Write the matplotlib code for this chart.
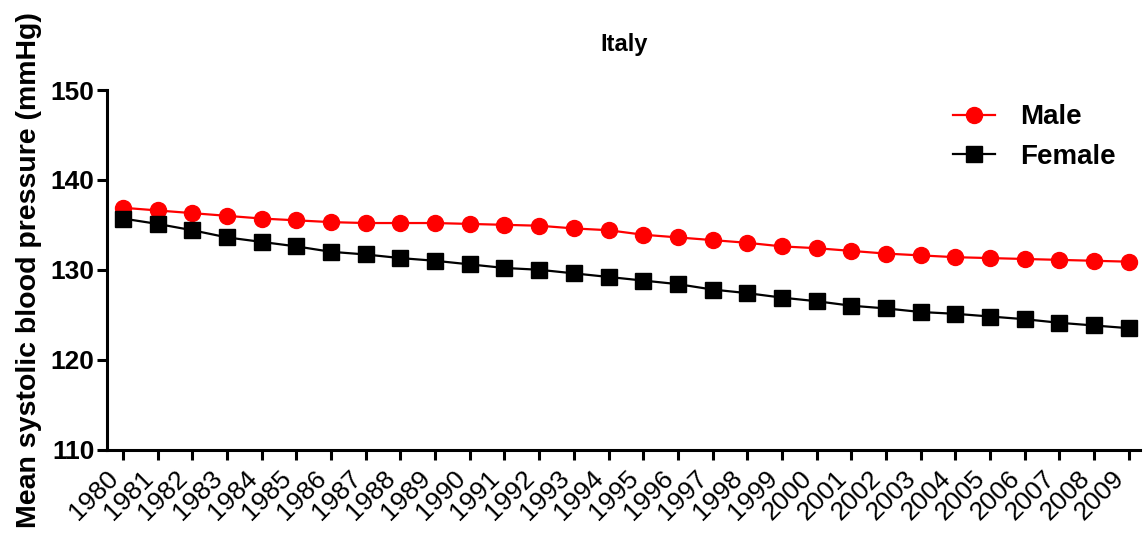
import matplotlib
matplotlib.use('Agg')
import matplotlib.pyplot as plt

# Data
years = list(range(1980, 2010))
male = [136.9, 136.6, 136.3, 136.0, 135.7, 135.5, 135.3, 135.2, 135.2, 135.2,
        135.1, 135.0, 134.9, 134.6, 134.4, 133.9, 133.6, 133.3, 133.0, 132.6,
        132.4, 132.1, 131.8, 131.6, 131.4, 131.3, 131.2, 131.1, 131.0, 130.9]
female = [135.7, 135.1, 134.4, 133.6, 133.1, 132.6, 132.0, 131.7, 131.3, 131.0,
          130.6, 130.2, 130.0, 129.6, 129.2, 128.8, 128.4, 127.8, 127.4, 126.9,
          126.5, 126.0, 125.7, 125.3, 125.1, 124.8, 124.5, 124.1, 123.8, 123.5]
y_ticks = [110, 120, 130, 140, 150]

plt.rcParams['font.family'] = ['Liberation Sans', 'DejaVu Sans']

fig = plt.figure(figsize=(11.43, 5.39), dpi=100)
ax = fig.add_axes([0.0936, 0.166, 0.904, 0.667])

ax.plot(years, male, color='#ff0000', marker='o', markersize=11.5, linewidth=1.6,
        label='Male')
ax.plot(years, female, color='black', marker='s', markersize=11.5, linewidth=1.6,
        label='Female')

ax.set_xlim(1979.54, 2009.33)
ax.set_ylim(110, 150)
ax.set_yticks(y_ticks)
ax.set_xticks(years)
# bbox top-right corner sits at the tick, so 2009 stays inside the figure
ax.set_xticklabels([str(y) for y in years], rotation=45, ha='right',
                   va='top', rotation_mode='default', fontsize=19)
ax.set_yticklabels([str(v) for v in y_ticks], fontsize=19, fontweight='bold')

for side in ('top', 'right'):
    ax.spines[side].set_visible(False)
for side in ('left', 'bottom'):
    ax.spines[side].set_linewidth(2.2)
ax.tick_params(axis='both', direction='out', width=2.2, length=7, pad=2)
ax.tick_params(axis='x', pad=5)

ax.set_title('Italy', fontsize=17, fontweight='bold', pad=28)
ax.set_ylabel('Mean systolic blood pressure (mmHg)', fontsize=20.5,
              fontweight='bold', labelpad=6)

ax.legend(loc='upper right', bbox_to_anchor=(1.0, 1.03), frameon=False,
          prop={'size': 20, 'weight': 'bold'}, handlelength=1.5,
          handletextpad=0.9, labelspacing=0.5)

fig.savefig('out.png', dpi=100, facecolor='white')
